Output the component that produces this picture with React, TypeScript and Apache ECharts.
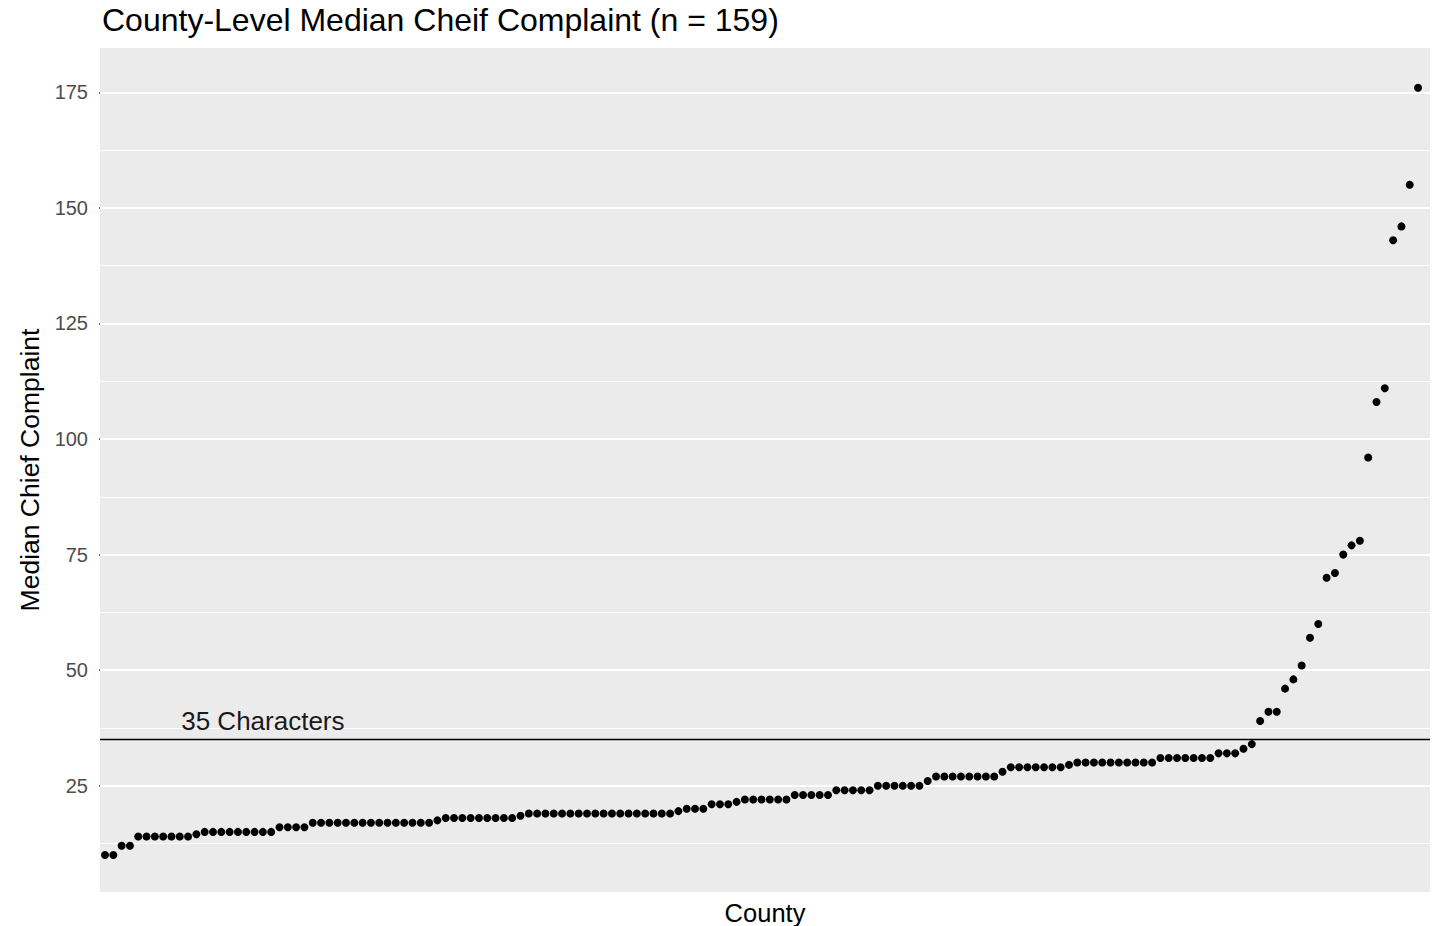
import React, { useEffect, useRef } from "react";
import * as echarts from "echarts";

const titleText = "County-Level Median Cheif Complaint (n = 159)";
const xAxisName = "County";
const yAxisName = "Median Chief Complaint";
const thresholdValue = 35;
const thresholdLabel = "35 Characters";
const thresholdLabelPos = [19, 39];

const yTicks = [25, 50, 75, 100, 125, 150, 175];
const yMinorGrid = [12.5, 37.5, 62.5, 87.5, 112.5, 137.5, 162.5];

const medianValues = [
  10, 10, 12, 12, 14, 14, 14, 14, 14, 14, 14, 14.5, 15, 15, 15, 15, 15, 15, 15, 15, 15,
  16, 16, 16, 16,
  17, 17, 17, 17, 17, 17, 17, 17, 17, 17, 17, 17, 17, 17, 17,
  17.5,
  18, 18, 18, 18, 18, 18, 18, 18, 18,
  18.5,
  19, 19, 19, 19, 19, 19, 19, 19, 19, 19, 19, 19, 19, 19, 19, 19, 19, 19,
  19.5,
  20, 20, 20,
  21, 21, 21,
  21.5,
  22, 22, 22, 22, 22, 22,
  23, 23, 23, 23, 23,
  24, 24, 24, 24, 24,
  25, 25, 25, 25, 25, 25,
  26,
  27, 27, 27, 27, 27, 27, 27, 27,
  28,
  29, 29, 29, 29, 29, 29, 29,
  29.5,
  30, 30, 30, 30, 30, 30, 30, 30, 30, 30,
  31, 31, 31, 31, 31, 31, 31,
  32, 32, 32,
  33, 34,
  39, 41, 41, 46, 48, 51, 57, 60, 70, 71, 75, 77, 78, 96, 108, 111, 143, 146, 155, 176,
];

const FONT = "'Liberation Sans', Arial, sans-serif";

export default function App() {
  const ref = useRef<HTMLDivElement>(null);

  useEffect(() => {
    if (!ref.current) return;
    const chart = echarts.init(ref.current, null, { renderer: "svg" });
    const points = medianValues.map((v, i) => [i, v]);
    const gridLines = [
      ...yMinorGrid.map((v) => ({ yAxis: v, lineStyle: { color: "#ffffff", width: 1, type: "solid" } })),
      ...yTicks.map((v) => ({ yAxis: v, lineStyle: { color: "#ffffff", width: 2, type: "solid" } })),
    ];
    chart.setOption({
      animation: false,
      backgroundColor: "#ffffff",
      title: {
        text: titleText,
        left: 97,
        top: -1,
        textStyle: { fontFamily: FONT, fontSize: 32, fontWeight: "normal", color: "#000000" },
      },
      grid: {
        left: 100,
        right: 7,
        top: 48,
        bottom: 34,
        show: true,
        backgroundColor: "#EBEBEB",
        borderWidth: 0,
        containLabel: false,
        outerBoundsMode: "none",
      },
      xAxis: {
        type: "value",
        min: -0.6,
        max: 159.44,
        name: xAxisName,
        nameLocation: "middle",
        nameGap: 8,
        nameTextStyle: { fontFamily: FONT, fontSize: 25.5, color: "#000000", verticalAlign: "top" },
        axisLine: { show: false },
        axisTick: { show: false },
        axisLabel: { show: false },
        splitLine: { show: false },
      },
      yAxis: {
        type: "value",
        min: 2.0,
        max: 184.6,
        name: yAxisName,
        nameLocation: "middle",
        nameGap: 53,
        nameTextStyle: { fontFamily: FONT, fontSize: 26.5, color: "#000000" },
        axisLine: { show: false },
        axisTick: { show: true, customValues: yTicks, length: 6, lineStyle: { color: "#333333", width: 1.5 } },
        axisLabel: { customValues: yTicks, color: "#4D4D4D", fontSize: 20, fontFamily: FONT, margin: 12 },
        splitLine: { show: false },
      },
      series: [
        {
          type: "line",
          data: [],
          z: 1,
          silent: true,
          markLine: {
            silent: true,
            symbol: ["none", "none"],
            label: { show: false },
            emphasis: { disabled: true },
            data: gridLines,
          },
        },
        {
          type: "scatter",
          data: points,
          z: 5,
          symbol: "circle",
          symbolSize: 8,
          itemStyle: { color: "#000000", opacity: 1 },
          silent: true,
          markLine: {
            silent: true,
            symbol: ["none", "none"],
            label: { show: false },
            lineStyle: { color: "#000000", width: 1.3, type: "solid" },
            data: [{ yAxis: thresholdValue }],
          },
          markPoint: {
            silent: true,
            symbol: "circle",
            symbolSize: 0,
            data: [{ coord: thresholdLabelPos, value: thresholdLabel }],
            label: {
              show: true,
              position: "inside",
              formatter: thresholdLabel,
              fontFamily: FONT,
              fontSize: 26,
              color: "#1a1a1a",
            },
          },
        },
      ],
    });
    return () => chart.dispose();
  }, []);

  return (
    <div
      ref={ref}
      style={{ position: "fixed", left: 0, top: 0, width: 1437, height: 926 }}
    />
  );
}
